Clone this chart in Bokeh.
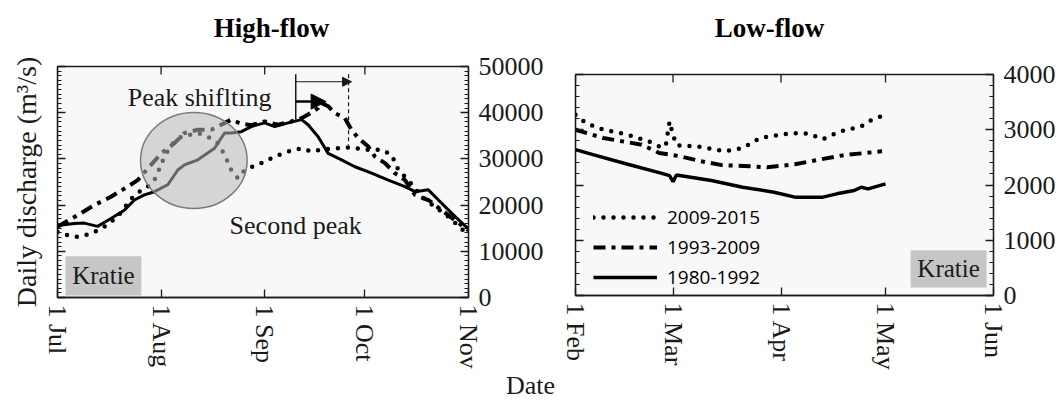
import math
import pandas as pd
from bokeh.plotting import figure
from bokeh.models import (Range1d, LinearAxis, FixedTicker, Label, Legend,
                          LegendItem, Arrow, NormalHead, Spacer)
from bokeh.layouts import row, column
from bokeh.embed import file_html
from bokeh.resources import INLINE
from bokeh.core.properties import value

YEAR = "2001"
HIGH_START = "Jul 01"
LOW_START = "Feb 01"

# ---------------- titles / tick labels ----------------
panel_titles = ["High-flow", "Low-flow"]
x_title = "Date"
y_title = "Daily discharge (m³/s)"
high_tick_dates = ["Jul 01", "Aug 01", "Sep 01", "Oct 01", "Nov 01"]
high_tick_labels = ["1 Jul", "1 Aug", "1 Sep", "1 Oct", "1 Nov"]
low_tick_dates = ["Feb 01", "Mar 01", "Apr 01", "May 01", "Jun 01"]
low_tick_labels = ["1 Feb", "1 Mar", "1 Apr", "1 May", "1 Jun"]
high_y_ticks = [0, 10000, 20000, 30000, 40000, 50000]
low_y_ticks = [0, 1000, 2000, 3000, 4000]

series_labels = ["2009-2015", "1993-2009", "1980-1992"]

# ---------------- High-flow series (m3/s) ----------------
hf_1980_dates = ["Jul 01", "Jul 06", "Jul 09", "Jul 13", "Jul 17", "Jul 21", "Jul 24",
                 "Jul 27", "Jul 30", "Aug 03", "Aug 06", "Aug 08", "Aug 12", "Aug 17",
                 "Aug 20", "Aug 22", "Aug 25", "Aug 28", "Sep 01", "Sep 04", "Sep 08",
                 "Sep 12", "Sep 14", "Sep 17", "Sep 20", "Sep 24", "Sep 28", "Oct 03",
                 "Oct 08", "Oct 13", "Oct 16", "Oct 20", "Oct 23", "Oct 27", "Nov 01"]
hf_1980_vals = [15600, 16000, 16100, 15400, 17100, 18900, 21100,
                22200, 22900, 24400, 27600, 28700, 29800, 32300,
                35600, 35600, 35900, 37000, 37800, 37000, 37800,
                38500, 37400, 34800, 31200, 29800, 28300, 26900,
                25400, 24000, 22900, 23300, 21100, 18200, 14800]

hf_2009_dates = ["Jul 01", "Jul 04", "Jul 07", "Jul 11", "Jul 15", "Jul 19", "Jul 24",
                 "Jul 28", "Jul 30", "Aug 01", "Aug 02", "Aug 04", "Aug 07", "Aug 12",
                 "Aug 15", "Aug 18", "Aug 20", "Aug 22", "Aug 24", "Aug 26", "Aug 31",
                 "Sep 04", "Sep 08", "Sep 12", "Sep 15", "Sep 19", "Sep 23", "Sep 27",
                 "Oct 01", "Oct 06", "Oct 09", "Oct 11", "Oct 14", "Oct 18", "Oct 22",
                 "Oct 26", "Nov 01"]
hf_2009_vals = [14200, 13500, 13100, 13800, 15300, 17500, 22200,
                24000, 25400, 28700, 30500, 33000, 34800, 35600,
                34800, 33400, 30900, 27600, 25800, 27600, 29100,
                30500, 31600, 32300, 31600, 32100, 32300, 32500,
                32000, 32000, 30900, 27600, 25400, 21800, 19600,
                17500, 13500]

hf_1993_dates = ["Jul 01", "Jul 07", "Jul 12", "Jul 17", "Jul 22", "Jul 25", "Jul 29",
                 "Aug 01", "Aug 05", "Aug 08", "Aug 12", "Aug 16", "Aug 19", "Aug 22",
                 "Aug 25", "Aug 28", "Sep 01", "Sep 05", "Sep 09", "Sep 12", "Sep 14",
                 "Sep 17", "Sep 18", "Sep 20", "Sep 22", "Sep 25", "Sep 27", "Sep 29",
                 "Oct 02", "Oct 04", "Oct 07", "Oct 10", "Oct 13", "Oct 16", "Oct 20",
                 "Oct 24", "Oct 28", "Nov 01"]
hf_1993_vals = [15300, 17800, 20000, 21800, 24000, 25400, 28700,
                31200, 33400, 35600, 36300, 36300, 37400, 38500,
                37600, 37300, 38100, 37400, 38100, 38800, 39600,
                41000, 42100, 41400, 39900, 38800, 36300, 34500,
                32700, 30500, 29100, 26900, 25400, 22200, 21100,
                18900, 16700, 14500]

# ---------------- Low-flow series (m3/s) ----------------
lf_1980_dates = ["Feb 01", "Feb 06", "Feb 16", "Feb 25", "Feb 28", "Mar 01", "Mar 02",
                 "Mar 12", "Mar 21", "Mar 30", "Apr 05", "Apr 13", "Apr 17", "Apr 22",
                 "Apr 24", "Apr 26", "May 01"]
lf_1980_vals = [2640, 2550, 2375, 2225, 2170, 2060, 2180,
                2080, 1960, 1870, 1780, 1780, 1840, 1900,
                1960, 1930, 2020]

lf_2009_dates = ["Feb 01", "Feb 04", "Feb 09", "Feb 16", "Feb 22", "Feb 26", "Feb 27",
                 "Feb 28", "Mar 01", "Mar 02", "Mar 09", "Mar 16", "Mar 21", "Mar 26",
                 "Apr 04", "Apr 09", "Apr 13", "Apr 18", "Apr 24", "Apr 27", "May 01"]
lf_2009_vals = [3270, 3120, 3000, 2910, 2790, 2670, 2750,
                3150, 2900, 2720, 2690, 2610, 2670, 2850,
                2940, 2930, 2830, 2970, 3060, 3180, 3270]

lf_1993_dates = ["Feb 01", "Feb 09", "Feb 20", "Feb 25", "Mar 03", "Mar 09", "Mar 15",
                 "Mar 23", "Mar 28", "Apr 05", "Apr 12", "Apr 19", "Apr 30"]
lf_1993_vals = [3000, 2850, 2730, 2580, 2520, 2430, 2360,
                2340, 2320, 2375, 2460, 2540, 2610]


def days(dates, start):
    s = pd.Timestamp(f"{start} {YEAR}")
    return [int((pd.Timestamp(f"{d} {YEAR}") - s).days) for d in dates]


SERIF = "Liberation Serif"
INK = "#1a1a1a"
W = 1061
TOP_H = 44
PANEL_H = 328
SHIFT = 8   # the low-flow frame sits 8 px lower than the high-flow one


def style_axis(ax, ticks, labels=None, minor=None):
    ax.ticker = FixedTicker(ticks=ticks, minor_ticks=minor or [])
    ax.axis_line_color = INK
    ax.axis_line_width = 1.3
    ax.major_tick_line_color = INK
    ax.major_tick_line_width = 1.3
    ax.minor_tick_line_color = INK
    ax.minor_tick_line_width = 1.1
    ax.major_tick_in = 8
    ax.major_tick_out = 0
    ax.minor_tick_in = 4
    ax.minor_tick_out = 0
    ax.major_label_text_font = SERIF
    ax.major_label_text_font_size = "26px"
    ax.major_label_text_color = INK
    ax.major_label_standoff = 7
    if labels is None:
        ax.major_label_overrides = {t: "" for t in ticks}
        ax.major_label_standoff = 0
        ax.major_label_text_font_size = "1px"
    else:
        ax.major_label_overrides = {t: l for t, l in zip(ticks, labels)}


def make_fig(width, height, mb_left, mb_right, mb_top, mb_bottom, xmax, ymax):
    p = figure(width=width, height=height, x_range=Range1d(0, xmax),
               y_range=Range1d(0, ymax), title=None,
               output_backend="svg", toolbar_location=None,
               min_border_left=mb_left, min_border_right=mb_right,
               min_border_top=mb_top, min_border_bottom=mb_bottom,
               background_fill_color="#f8f8f8", border_fill_color="white",
               outline_line_color=INK, outline_line_width=1.3)
    p.grid.visible = False
    return p


def top_ticks(p, ticks, ymax):
    # inward tick marks along the top frame edge (outer half of each dash is clipped)
    p.scatter(x=ticks, y=[ymax] * len(ticks), marker="dash", angle=math.pi / 2,
              size=16, line_color=INK, line_width=1.3)


def strip(height):
    s = figure(width=W, height=height, x_range=Range1d(0, W), y_range=Range1d(0, height),
               title=None, output_backend="svg", toolbar_location=None, x_axis_type=None,
               y_axis_type=None, min_border=0, outline_line_color=None,
               background_fill_color="white", border_fill_color="white")
    s.grid.visible = False
    return s


# ================= title strip =================
top = strip(TOP_H)
top.text(x=[271, 769], y=[TOP_H - 27, TOP_H - 27], text=panel_titles,
         text_font=value(SERIF), text_font_size="27px", text_font_style="bold",
         text_color="black", text_align="center", text_baseline="middle")

# ================= High-flow panel =================
hx_ticks = days(high_tick_dates, HIGH_START)
p1 = make_fig(560, PANEL_H, 57, 92, 22, 75, hx_ticks[-1], high_y_ticks[-1])

style_axis(p1.xaxis[0], hx_ticks, high_tick_labels)
p1.xaxis[0].major_label_orientation = "vertical"
top_ticks(p1, hx_ticks, high_y_ticks[-1])

minor_h = [v for v in range(0, 50001, 1000) if v % 10000]
style_axis(p1.yaxis[0], high_y_ticks, None, minor_h)
p1.yaxis[0].axis_label = y_title
p1.yaxis[0].axis_label_text_font = SERIF
p1.yaxis[0].axis_label_text_font_size = "28px"
p1.yaxis[0].axis_label_text_font_style = "normal"
p1.yaxis[0].axis_label_text_color = INK
p1.yaxis[0].axis_label_standoff = 16
right1 = LinearAxis()
style_axis(right1, high_y_ticks, [str(v) for v in high_y_ticks], minor_h)
right1.major_label_standoff = 10
p1.add_layout(right1, "right")

p1.line(days(hf_2009_dates, HIGH_START), hf_2009_vals, line_color="black",
        line_width=4.5, line_dash="0 10", line_cap="round")
p1.line(days(hf_1993_dates, HIGH_START), hf_1993_vals, line_color="black",
        line_width=4, line_dash="12 6 4 6")
p1.line(days(hf_1980_dates, HIGH_START), hf_1980_vals, line_color="black",
        line_width=3)

# grey circle marking the shifted first peak
p1.ellipse(x=[40.8], y=[29670], width=[31.9], height=[20780],
           fill_color="#b8b8b8", fill_alpha=0.55, line_color="#7a7a7a", line_width=1.5)

# peak-shifting annotation
p1.segment(x0=[71.3], y0=[38500], x1=[71.3], y1=[48300], line_color=INK, line_width=1.5)
p1.segment(x0=[87.1], y0=[48300], x1=[87.1], y1=[33000], line_color=INK,
           line_width=1.2, line_dash="4 3")
p1.add_layout(Arrow(end=NormalHead(size=9, line_color=INK, fill_color=INK, line_width=1),
                    x_start=71.3, y_start=46700, x_end=88.0, y_end=46700,
                    line_color=INK, line_width=1))
p1.add_layout(Arrow(end=NormalHead(size=15, line_color="black", fill_color="black", line_width=1),
                    x_start=71.3, y_start=42400, x_end=80.4, y_end=42400,
                    line_color="black", line_width=2.5))

p1.add_layout(Label(x=21, y=43260, text="Peak shiflting", text_font=SERIF,
                    text_font_size="26px", text_color=INK, text_baseline="middle"))
p1.add_layout(Label(x=51.5, y=15650, text="Second peak", text_font=SERIF,
                    text_font_size="26px", text_color=INK, text_baseline="middle"))

p1.quad(left=[2.4], right=[25.1], bottom=[430], top=[8910], fill_color="#c6c6c6",
        line_color=None)
p1.add_layout(Label(x=13.75, y=4670, text="Kratie", text_font=SERIF, text_font_size="25px",
                    text_color=INK, text_align="center", text_baseline="middle"))

# ================= Low-flow panel =================
lx_ticks = days(low_tick_dates, LOW_START)
p2 = make_fig(501, PANEL_H - SHIFT, 15, 68, 22, 74, lx_ticks[-1], low_y_ticks[-1])

style_axis(p2.xaxis[0], lx_ticks, low_tick_labels)
p2.xaxis[0].major_label_orientation = "vertical"
top_ticks(p2, lx_ticks, low_y_ticks[-1])

minor_l = [v for v in range(0, 4001, 200) if v % 1000]
style_axis(p2.yaxis[0], low_y_ticks, None, minor_l)
right2 = LinearAxis()
style_axis(right2, low_y_ticks, [str(v) for v in low_y_ticks], minor_l)
right2.major_label_standoff = 10
p2.add_layout(right2, "right")

r_dot = p2.line(days(lf_2009_dates, LOW_START), lf_2009_vals, line_color="black",
                line_width=4.5, line_dash="0 10", line_cap="round")
r_dd = p2.line(days(lf_1993_dates, LOW_START), lf_1993_vals, line_color="black",
               line_width=4, line_dash="12 6 4 6")
r_sol = p2.line(days(lf_1980_dates, LOW_START), lf_1980_vals, line_color="black",
                line_width=3.5)

legend = Legend(items=[LegendItem(label=series_labels[0], renderers=[r_dot]),
                       LegendItem(label=series_labels[1], renderers=[r_dd]),
                       LegendItem(label=series_labels[2], renderers=[r_sol])],
                location=(18, 3), border_line_color=None, background_fill_alpha=0,
                padding=0, margin=0, spacing=0, glyph_width=64, glyph_height=30,
                label_height=30, label_standoff=10, label_text_font="Open Sans",
                label_text_font_size="19px", label_text_color="black")
p2.add_layout(legend)

p2.quad(left=[96.2], right=[118.0], bottom=[143], top=[821], fill_color="#c6c6c6",
        line_color=None)
p2.add_layout(Label(x=107.1, y=482, text="Kratie", text_font=SERIF, text_font_size="25px",
                    text_color=INK, text_align="center", text_baseline="middle"))

# ================= x-axis title strip =================
bottom = strip(32)
bottom.text(x=[530], y=[19], text=[x_title], text_font=value(SERIF),
            text_font_size="26px", text_color=INK, text_align="center",
            text_baseline="middle")

layout = column(top, row(p1, column(Spacer(width=501, height=SHIFT), p2)), bottom)
open("out.html", "w").write(file_html(layout, INLINE))
